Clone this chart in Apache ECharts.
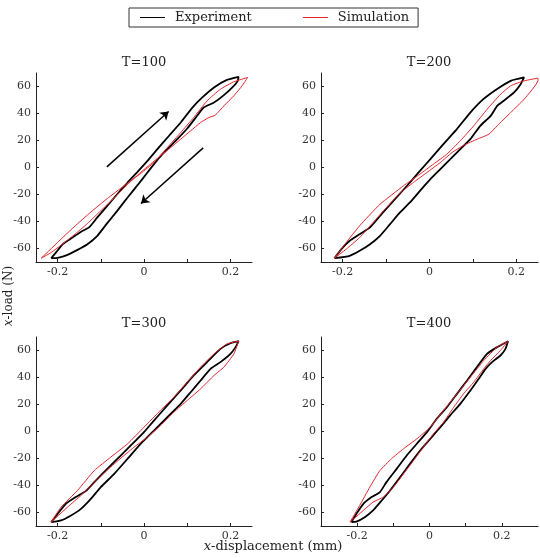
<!DOCTYPE html>
<html>
<head>
<meta charset="utf-8">
<script src="https://cdn.jsdelivr.net/npm/echarts@6/dist/echarts.min.js"></script>
<style>
html, body { margin: 0; padding: 0; background: #fff; }
#chart { width: 540px; height: 558px; }
</style>
</head>
<body>
<div id="chart"></div>
<script>
var panelTitles = ["T=100", "T=200", "T=300", "T=400"];
var seriesNames = ["Experiment", "Simulation"];
var xTicks = [-0.2, -0.1, 0, 0.1, 0.2];
var xLabels = [-0.2, 0, 0.2];
var yTicks = [-60, -40, -20, 0, 20, 40, 60];
var xRanges = [[-0.25, 0.25], [-0.25, 0.25], [-0.25, 0.25], [-0.3, 0.3]];
var yRange = [-70, 70];

// loops: [displacement mm, load N]
var exp100 = [
    [-0.215, -67.2], [-0.204, -63.0], [-0.188, -56.8], [-0.169, -52.6], [-0.142, -46.9], [-0.127, -44.4],
    [-0.108, -37.0], [-0.085, -28.4], [-0.062, -19.8], [-0.038, -11.1], [-0.015, -3.2], [0.008, 4.9],
    [0.031, 13.6], [0.058, 23.5], [0.085, 33.3], [0.112, 44.4], [0.135, 51.9], [0.162, 59.3],
    [0.192, 64.9], [0.219, 67.2], [0.217, 64.2], [0.208, 60.5], [0.185, 53.6], [0.162, 48.1],
    [0.138, 44.4], [0.123, 38.3], [0.100, 28.9], [0.077, 21.0], [0.054, 13.6], [0.031, 5.7],
    [0.008, -3.7], [-0.015, -13.1], [-0.038, -22.2], [-0.062, -32.1], [-0.085, -41.2], [-0.108, -50.6],
    [-0.131, -56.8], [-0.154, -61.0], [-0.177, -64.7], [-0.200, -66.9], [-0.215, -67.2]
];
var sim100 = [
    [-0.238, -67.2], [-0.200, -55.5], [-0.162, -44.0], [-0.123, -33.0], [-0.085, -23.0], [-0.046, -13.5],
    [-0.008, -4.5], [0.023, 3.7], [0.054, 14.8], [0.085, 25.9], [0.115, 37.0], [0.146, 49.4],
    [0.177, 58.0], [0.208, 63.5], [0.240, 66.7], [0.227, 60.5], [0.208, 53.1], [0.185, 45.7],
    [0.165, 38.8], [0.150, 37.0], [0.131, 33.3], [0.108, 27.2], [0.085, 21.0], [0.062, 14.8],
    [0.038, 8.6], [0.015, 2.5], [-0.008, -3.7], [-0.038, -12.5], [-0.069, -22.5], [-0.100, -32.0],
    [-0.131, -41.5], [-0.162, -50.0], [-0.192, -57.5], [-0.215, -63.0], [-0.238, -67.2]
];
var exp200 = [
    [-0.219, -67.2], [-0.203, -60.5], [-0.184, -54.3], [-0.161, -49.4], [-0.137, -44.4], [-0.107, -33.3],
    [-0.076, -22.2], [-0.045, -11.1], [-0.022, -2.5], [0.002, 6.2], [0.032, 17.3], [0.063, 28.4],
    [0.094, 40.7], [0.124, 50.6], [0.155, 58.0], [0.187, 64.2], [0.218, 66.7], [0.210, 61.7],
    [0.195, 55.6], [0.171, 49.4], [0.156, 45.7], [0.141, 38.3], [0.117, 30.9], [0.094, 21.0],
    [0.071, 13.6], [0.048, 6.2], [0.025, -1.2], [0.002, -8.6], [-0.022, -17.3], [-0.045, -25.9],
    [-0.068, -33.3], [-0.091, -42.0], [-0.114, -50.6], [-0.137, -56.8], [-0.161, -61.7], [-0.184, -65.4],
    [-0.219, -67.2]
];
var sim200 = [
    [-0.219, -67.2], [-0.192, -55.6], [-0.161, -43.2], [-0.114, -27.2], [-0.060, -13.6], [-0.022, -4.9],
    [0.009, 2.5], [0.040, 9.9], [0.071, 19.8], [0.102, 30.9], [0.133, 43.2], [0.164, 54.3],
    [0.187, 60.5], [0.218, 64.2], [0.250, 66.2], [0.250, 64.5], [0.218, 50.6], [0.187, 40.7],
    [0.156, 30.9], [0.137, 24.7], [0.110, 21.0], [0.079, 16.5], [0.052, 11.1], [0.025, 3.7],
    [-0.006, -3.7], [-0.037, -11.1], [-0.068, -19.0], [-0.099, -29.6], [-0.130, -40.7], [-0.161, -51.9],
    [-0.192, -60.5], [-0.219, -67.2]
];
var exp300 = [
    [-0.215, -67.2], [-0.200, -61.0], [-0.181, -53.6], [-0.158, -48.6], [-0.135, -44.2], [-0.115, -37.5],
    [-0.085, -27.7], [-0.054, -17.8], [-0.023, -7.9], [0.000, -0.5], [0.023, 8.1], [0.054, 19.3],
    [0.085, 30.4], [0.115, 41.5], [0.146, 51.4], [0.177, 61.2], [0.200, 65.4], [0.219, 66.9],
    [0.212, 62.5], [0.200, 57.5], [0.177, 51.4], [0.154, 46.4], [0.131, 37.8], [0.108, 29.1],
    [0.085, 20.5], [0.054, 10.6], [0.023, 0.7], [-0.008, -9.1], [-0.038, -20.2], [-0.069, -31.4],
    [-0.100, -41.2], [-0.123, -49.9], [-0.146, -57.3], [-0.169, -62.2], [-0.192, -65.9], [-0.215, -67.2]
];
var sim300 = [
    [-0.215, -67.2], [-0.192, -56.0], [-0.154, -43.7], [-0.115, -28.9], [-0.077, -19.0], [-0.038, -9.1],
    [0.000, 3.2], [0.038, 15.6], [0.069, 25.4], [0.100, 36.5], [0.131, 47.7], [0.162, 57.5],
    [0.192, 64.9], [0.219, 66.9], [0.208, 57.5], [0.185, 47.7], [0.162, 41.5], [0.131, 31.6],
    [0.100, 23.0], [0.069, 14.3], [0.038, 4.4], [0.008, -4.2], [-0.023, -11.6], [-0.069, -24.0],
    [-0.115, -37.5], [-0.146, -47.4], [-0.177, -56.0], [-0.215, -67.2]
];
var exp400 = [
    [-0.216, -67.2], [-0.202, -61.0], [-0.183, -53.6], [-0.160, -48.6], [-0.137, -44.9], [-0.119, -37.5],
    [-0.091, -27.7], [-0.063, -17.8], [-0.035, -9.1], [-0.007, -0.5], [0.020, 9.4], [0.048, 18.0],
    [0.076, 27.9], [0.104, 37.8], [0.131, 47.7], [0.159, 57.5], [0.187, 62.5], [0.217, 66.9],
    [0.210, 61.2], [0.196, 56.3], [0.173, 51.4], [0.155, 46.4], [0.136, 39.0], [0.113, 30.4],
    [0.085, 20.5], [0.057, 11.9], [0.030, 3.2], [0.002, -5.4], [-0.026, -14.1], [-0.054, -24.0],
    [-0.081, -33.8], [-0.109, -43.7], [-0.132, -51.1], [-0.156, -58.5], [-0.179, -63.5], [-0.202, -66.7],
    [-0.216, -67.2]
];
var sim400 = [
    [-0.220, -67.2], [-0.193, -54.8], [-0.165, -41.2], [-0.137, -28.9], [-0.105, -20.2], [-0.072, -12.8],
    [-0.035, -5.4], [0.002, 3.2], [0.039, 15.6], [0.076, 27.9], [0.113, 40.2], [0.150, 52.6],
    [0.187, 62.5], [0.217, 66.9], [0.196, 60.0], [0.169, 52.6], [0.150, 46.4], [0.122, 36.5],
    [0.094, 27.9], [0.067, 18.0], [0.039, 6.9], [0.011, -1.7], [-0.017, -11.6], [-0.044, -21.5],
    [-0.072, -31.4], [-0.100, -41.2], [-0.128, -48.6], [-0.156, -52.3], [-0.183, -58.5], [-0.220, -67.2]
];
var expLoops = [exp100, exp200, exp300, exp400];
var simLoops = [sim100, sim200, sim300, sim400];

// direction arrows in the T=100 panel
var arrowUp = [[-0.086, 0.5], [0.057, 41.5]];
var arrowDown = [[0.137, 14.5], [-0.007, -26.7]];

var serif = "DejaVu Serif";
var grids = [
    { left: 36, top: 73, width: 216, height: 189 },
    { left: 321, top: 73, width: 217, height: 189 },
    { left: 36, top: 337, width: 216, height: 189 },
    { left: 321, top: 337, width: 217, height: 189 }
];
var titlePos = [[144, 63], [429, 63], [144, 324], [429, 324]];

function makeX(i) {
    return {
        type: "value",
        gridIndex: i,
        min: xRanges[i][0],
        max: xRanges[i][1],
        axisLine: { show: true, onZero: false, lineStyle: { color: "#222", width: 1 } },
        axisTick: { show: true, inside: true, length: 3, customValues: xTicks, lineStyle: { color: "#222" } },
        axisLabel: { customValues: xLabels, color: "#333", fontFamily: serif, fontSize: 11, margin: 5 },
        splitLine: { show: false }
    };
}

function makeY(i) {
    return {
        type: "value",
        gridIndex: i,
        min: yRange[0],
        max: yRange[1],
        axisLine: { show: true, onZero: false, lineStyle: { color: "#222", width: 1 } },
        axisTick: { show: true, inside: true, length: 3, customValues: yTicks, lineStyle: { color: "#222" } },
        axisLabel: { customValues: yTicks, color: "#333", fontFamily: serif, fontSize: 11, margin: 5 },
        splitLine: { show: false }
    };
}

function loop(name, data, i, color, width) {
    return {
        name: name,
        type: "line",
        xAxisIndex: i,
        yAxisIndex: i,
        data: data,
        symbol: "none",
        showSymbol: false,
        smooth: 0.15,
        lineStyle: { color: color, width: width },
        itemStyle: { color: color }
    };
}

var xAxes = [], yAxes = [], series = [], graphics = [];
for (var i = 0; i < 4; i++) {
    xAxes.push(makeX(i));
    yAxes.push(makeY(i));
    series.push(loop(seriesNames[0], expLoops[i], i, "#000", 1.8));
    series.push(loop(seriesNames[1], simLoops[i], i, "#e3242b", 1));
    graphics.push({
        type: "text",
        x: titlePos[i][0],
        y: titlePos[i][1],
        style: {
            text: panelTitles[i], fill: "#222", fontFamily: serif, fontSize: 13,
            textAlign: "center", textVerticalAlign: "middle"
        }
    });
}

series[0].markLine = {
    silent: true,
    symbol: ["none", "arrow"],
    symbolSize: 8,
    lineStyle: { color: "#000", width: 1.5, type: "solid" },
    label: { show: false },
    data: [
        [{ coord: arrowUp[0] }, { coord: arrowUp[1] }],
        [{ coord: arrowDown[0] }, { coord: arrowDown[1] }]
    ]
};

graphics.push({
    type: "text",
    x: 273,
    y: 547,
    style: {
        text: "{i|x}{n|-displacement (mm)}",
        fill: "#222", fontFamily: serif, fontSize: 13,
        textAlign: "center", textVerticalAlign: "middle",
        rich: {
            i: { fontStyle: "italic", fontFamily: serif, fontSize: 13, fill: "#222" },
            n: { fontFamily: serif, fontSize: 13, fill: "#222" }
        }
    }
});
graphics.push({
    type: "text",
    x: 9,
    y: 296,
    rotation: Math.PI / 2,
    style: {
        text: "{i|x}{n|-load (N)}",
        fill: "#222", fontFamily: serif, fontSize: 12,
        textAlign: "center", textVerticalAlign: "middle",
        rich: {
            i: { fontStyle: "italic", fontFamily: serif, fontSize: 12, fill: "#222" },
            n: { fontFamily: serif, fontSize: 12, fill: "#222" }
        }
    }
});

var myChart = echarts.init(document.getElementById("chart"));
var option = {
    animation: false,
    backgroundColor: "#fff",
    legend: {
        data: seriesNames,
        left: 129,
        top: 8,
        padding: [3, 9, 3, 11],
        itemGap: 51,
        itemWidth: 25,
        itemHeight: 1,
        icon: "rect",
        selectedMode: false,
        borderColor: "#333",
        borderWidth: 1,
        borderRadius: 0,
        textStyle: { fontFamily: serif, fontSize: 13, color: "#222", lineHeight: 13, padding: [0, 0, 0, 5] }
    },
    grid: grids,
    xAxis: xAxes,
    yAxis: yAxes,
    series: series,
    graphic: graphics
};
myChart.setOption(option);
</script>
</body>
</html>
